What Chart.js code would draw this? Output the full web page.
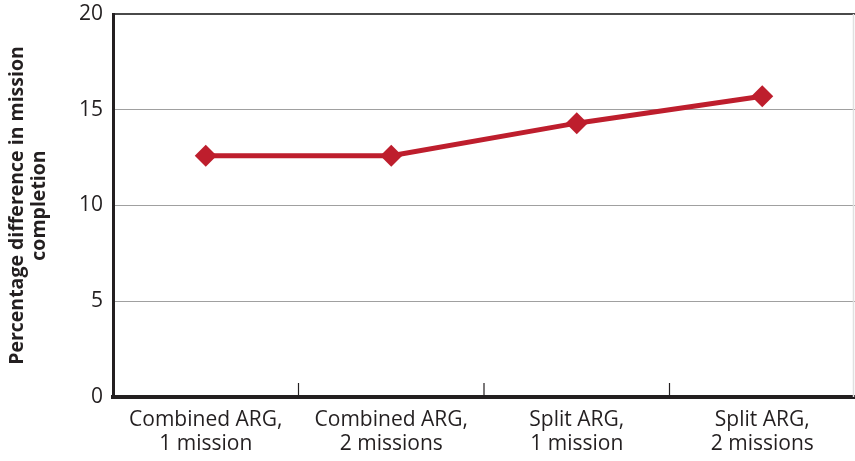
<!DOCTYPE html>
<html>
<head>
<meta charset="utf-8">
<script src="https://cdn.jsdelivr.net/npm/chart.js@4/dist/chart.umd.min.js"></script>
<style>
  html, body { margin: 0; padding: 0; background: #ffffff; }
  #wrap { width: 855px; height: 461px; position: relative; }
</style>
</head>
<body>
<div id="wrap"><canvas id="chart"></canvas></div>
<script>
// Mission completion gain for each ARG configuration
const categories = [
  ['Combined ARG,', '1 mission'],
  ['Combined ARG,', '2 missions'],
  ['Split ARG,', '1 mission'],
  ['Split ARG,', '2 missions']
];
const completionDiff = [12.6, 12.6, 14.3, 15.7];
const yTicks = [0, 5, 10, 15, 20];
const yTitle = ['Percentage difference in mission', 'completion'];

const RED = '#be1e2d';
const AXIS = '#231f20';

// Short upward ticks between categories plus a faint right frame
const categoryTicks = {
  id: 'categoryTicks',
  beforeDatasetsDraw(chart) {
    const { ctx, chartArea, scales } = chart;
    const x = scales.x;
    ctx.save();
    ctx.strokeStyle = '#e0e0e0';
    ctx.lineWidth = 1.5;
    ctx.beginPath();
    ctx.moveTo(chartArea.right - 1.5, chartArea.top);
    ctx.lineTo(chartArea.right - 1.5, chartArea.bottom);
    ctx.stroke();

    ctx.strokeStyle = AXIS;
    ctx.lineWidth = 1.2;
    for (let i = 0; i < categories.length - 1; i++) {
      const px = (x.getPixelForValue(i) + x.getPixelForValue(i + 1)) / 2;
      ctx.beginPath();
      ctx.moveTo(px, chartArea.bottom - 14);
      ctx.lineTo(px, chartArea.bottom);
      ctx.stroke();
    }
    ctx.restore();
  }
};

new Chart(document.getElementById('chart'), {
  type: 'line',
  data: {
    labels: categories,
    datasets: [{
      data: completionDiff,
      borderColor: RED,
      backgroundColor: RED,
      borderWidth: 5,
      pointStyle: 'rectRot',
      pointRadius: 11,
      pointHoverRadius: 11,
      pointBorderWidth: 0,
      tension: 0
    }]
  },
  options: {
    responsive: true,
    maintainAspectRatio: false,
    animation: false,
    events: [],
    layout: { autoPadding: false, padding: { top: 14, right: 0, left: 0, bottom: 0 } },
    plugins: {
      legend: { display: false },
      tooltip: { enabled: false }
    },
    scales: {
      x: {
        offset: true,
        afterFit(scale) {
          scale.height = 64;
          scale.paddingLeft = 0;
          scale.paddingRight = 0;
        },
        grid: { display: false, drawTicks: false },
        border: { display: true, color: AXIS, width: 4 },
        ticks: {
          color: '#231f20',
          padding: 11,
          maxRotation: 0,
          autoSkip: false,
          font: { family: 'Open Sans', size: 21, lineHeight: 1.15 }
        }
      },
      y: {
        min: 0,
        max: 20,
        afterBuildTicks(scale) {
          scale.ticks = yTicks.map(v => ({ value: v }));
        },
        afterFit(scale) {
          scale.width = 113;
          scale.paddingTop = 0;
          scale.paddingBottom = 0;
        },
        grid: {
          drawTicks: false,
          color: ctx => ctx.tick && ctx.tick.value === 20 ? '#4a4a4a' : '#a0a0a0',
          lineWidth: ctx => ctx.tick && ctx.tick.value === 20 ? 2 : 1
        },
        border: { display: true, color: AXIS, width: 3 },
        ticks: {
          color: '#231f20',
          padding: 10,
          font: { family: 'Open Sans', size: 21 }
        },
        title: {
          display: true,
          text: yTitle,
          color: '#231f20',
          padding: { top: 7, bottom: 0 },
          font: { family: 'Open Sans', size: 19.5, weight: 'bold', lineHeight: 1.12 }
        }
      }
    }
  },
  plugins: [categoryTicks]
});
</script>
</body>
</html>
